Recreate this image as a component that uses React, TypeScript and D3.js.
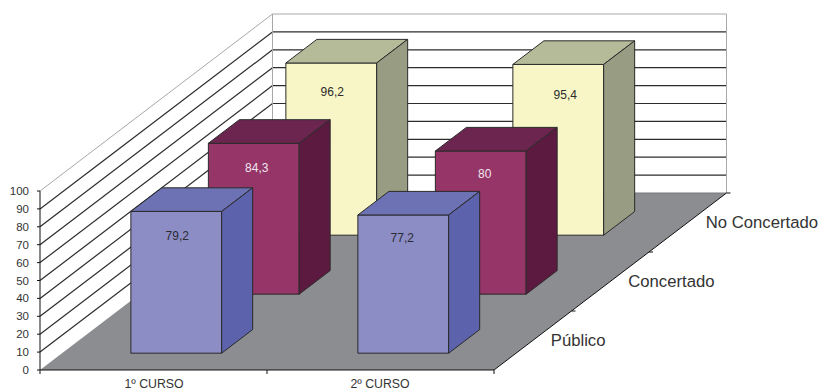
import React from "react";
import * as d3 from "d3";

const courses = ["1º CURSO", "2º CURSO"];
const series = ["Público", "Concertado", "No Concertado"];
const publico = [79.2, 77.2];
const concertado = [84.3, 80];
const noConcertado = [96.2, 95.4];
const valueLabels = [["79,2", "77,2"], ["84,3", "80"], ["96,2", "95,4"]];
const yTicks = d3.range(0, 101, 10);
const faceColors = ["#8B8DC4", "#953568", "#F8F6C6"];
const topColors = ["#6C72B3", "#6B254E", "#B5BA99"];
const sideColors = ["#5C63AC", "#5D1A40", "#989C82"];
const labelColors = ["#2b2b33", "#f2e6ee", "#2b2b2b"];

const W = 820, H = 390;
const x = d3.scaleLinear().domain([0, 2]).range([40, 494]);
const y = d3.scaleLinear().domain([0, 100]).range([0, 179]);
const dx = d3.scaleLinear().domain([0, 3]).range([0, 232.5]);
const dy = d3.scaleLinear().domain([0, 3]).range([0, 177]);

// project chart coordinates (category, value, depth row) to the picture
const P = (c: number, v: number, d: number): [number, number] => [x(c) + dx(d), 370 - y(v) - dy(d)];
const path = (pts: [number, number][]) => d3.line()(pts)! + "Z";

const values = [publico, concertado, noConcertado];
const barW = 0.4, barD = 0.4, barGap = 0.285, barCentre = 0.503;
// hand placement of the value labels inside the faces: [dx, dy from top]
const labelNudge = [[[1, 29], [-1, 27]], [[3, 29], [4, 27]], [[1, 33], [7, 35]]];

function Bar({ c, s, v }: { c: number; s: number; v: number }) {
  const c0 = c + barCentre - barW / 2, c1 = c + barCentre + barW / 2;
  const d0 = s + barGap, d1 = d0 + barD;
  const [lx, ly] = P(c + barCentre, v, d0);
  const stroke = "#2a2a2a";
  const common = { stroke, strokeWidth: 1, strokeLinejoin: "round" as const };
  const [nx, ny] = labelNudge[s][c];
  return (
    <g>
      <path d={path([P(c0, 0, d0), P(c1, 0, d0), P(c1, v, d0), P(c0, v, d0)])} fill={faceColors[s]} {...common} />
      <path d={path([P(c0, v, d0), P(c1, v, d0), P(c1, v, d1), P(c0, v, d1)])} fill={topColors[s]} {...common} />
      <path d={path([P(c1, 0, d0), P(c1, 0, d1), P(c1, v, d1), P(c1, v, d0)])} fill={sideColors[s]} {...common} />
      <text x={lx + nx} y={ly + ny} textAnchor="middle" fontSize={12} fill={labelColors[s]}>
        {valueLabels[s][c]}
      </text>
    </g>
  );
}

export default function App() {
  const line = (a: [number, number], b: [number, number], color: string, w = 1, key?: string | number) => (
    <line key={key} x1={a[0]} y1={a[1]} x2={b[0]} y2={b[1]} stroke={color} strokeWidth={w} />
  );
  const grid = "#2c2c2c", wall = "#a8a8a8", axis = "#111";
  return (
    <svg
      width={W}
      height={H}
      viewBox={`0 0 ${W} ${H}`}
      style={{ position: "absolute", left: 0, top: 0, background: "#fff", fontFamily: "'Liberation Sans', Arial, sans-serif" }}
    >
      {/* floor */}
      <path d={path([P(0, 0, 0), P(2, 0, 0), P(2, 0, 3), P(0, 0, 3)])} fill="#8C8D91" />
      {/* walls: gridlines */}
      {yTicks.slice(1, -1).map((t) => (
        <g key={t}>
          {line(P(0, t, 0), P(0, t, 3), grid, 1.2)}
          {line(P(0, t, 3), P(2, t, 3), grid, 1.2)}
        </g>
      ))}
      {line(P(0, 100, 0), P(0, 100, 3), wall)}
      {line(P(0, 100, 3), P(2, 100, 3), wall)}
      {line(P(0, 0, 3), P(0, 100, 3), wall)}
      {line(P(2, 0, 3), P(2, 100, 3), wall)}
      {line(P(0, 0, 3), P(2, 0, 3), "#77787c")}
      {/* bars, back row first */}
      {[2, 1, 0].map((s) => courses.map((_, c) => <Bar key={`${s}-${c}`} c={c} s={s} v={values[s][c]} />))}
      {/* axes */}
      {line(P(0, 0, 0), P(0, 100, 0), axis)}
      {line(P(0, 0, 0), P(2, 0, 0), axis)}
      {line(P(2, 0, 0), P(2, 0, 3), axis)}
      {yTicks.map((t) => {
        const [px, py] = P(0, t, 0);
        return (
          <g key={t}>
            {line([px - 3, py], [px, py], axis)}
            <text x={px - 11} y={py + 4} textAnchor="end" fontSize={11.5} fill="#333">{t}</text>
          </g>
        );
      })}
      {[0, 1, 2].map((c) => {
        const [px, py] = P(c, 0, 0);
        return <g key={c}>{line([px, py], [px, py + 4], axis)}</g>;
      })}
      {courses.map((name, c) => {
        const [px] = P(c + 0.5, 0, 0);
        return (
          <text key={name} x={px + 0.5 - c} y={388} textAnchor="middle" fontSize={12.3} fill="#333">{name}</text>
        );
      })}
      {[1, 2, 3].map((d) => {
        const [px, py] = P(2, 0, d);
        return <g key={d}>{line([px, py], [px + 4, py], axis)}</g>;
      })}
      {series.map((name, s) => {
        const [px, py] = P(2, 0, s + 0.5);
        return (
          <text key={name} x={px + 18} y={py + 5} fontSize={16.7} fill="#333">{name}</text>
        );
      })}
    </svg>
  );
}
